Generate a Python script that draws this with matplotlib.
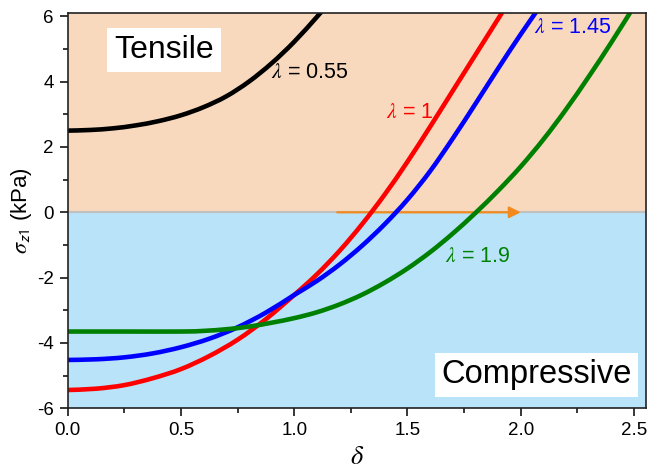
import matplotlib
matplotlib.use("Agg")
import matplotlib.pyplot as plt
from matplotlib.path import Path
from matplotlib.patches import PathPatch

plt.rcParams['font.family'] = ['Liberation Sans', 'DejaVu Sans']
plt.rcParams['mathtext.fontset'] = 'stix'

# Axial stress sigma_z1 (kPa) versus delta for four stretch ratios
delta_055 = [0.0, 0.1, 0.2, 0.3, 0.4, 0.5, 0.6, 0.7, 0.8, 0.9, 1.0, 1.1, 1.15]
sigma_055 = [2.50, 2.52, 2.57, 2.66, 2.79, 2.97, 3.22, 3.55, 4.00, 4.56, 5.22, 5.98, 6.38]

delta_1 = [0.0, 0.125, 0.25, 0.375, 0.5, 0.625, 0.75, 0.875, 1.0, 1.1, 1.2, 1.3,
           1.4, 1.5, 1.6, 1.7, 1.8, 1.9, 2.0]
sigma_1 = [-5.44, -5.40, -5.29, -5.08, -4.80, -4.40, -3.90, -3.27, -2.53, -1.90,
           -1.18, -0.36, 0.55, 1.55, 2.62, 3.72, 4.82, 5.92, 7.02]

delta_145 = [0.0, 0.125, 0.25, 0.375, 0.5, 0.625, 0.75, 0.875, 1.0, 1.1, 1.2, 1.3,
             1.4, 1.5, 1.6, 1.7, 1.8, 1.9, 2.0, 2.1]
sigma_145 = [-4.52, -4.50, -4.44, -4.32, -4.13, -3.87, -3.52, -3.07, -2.53, -2.10,
             -1.60, -1.02, -0.36, 0.39, 1.26, 2.26, 3.32, 4.40, 5.45, 6.45]

delta_19 = [0.0, 0.25, 0.5, 0.6, 0.7, 0.8, 0.9, 1.0, 1.1, 1.2, 1.3, 1.4, 1.5, 1.6,
            1.7, 1.8, 1.9, 2.0, 2.1, 2.2, 2.3, 2.4, 2.5]
sigma_19 = [-3.65, -3.65, -3.65, -3.63, -3.58, -3.50, -3.38, -3.24, -3.06, -2.82,
            -2.52, -2.15, -1.72, -1.22, -0.65, -0.02, 0.66, 1.40, 2.23, 3.15, 4.15,
            5.20, 6.30]

series = [
    (delta_055, sigma_055, 'black', r'$\lambda$ = 0.55', (1.07, 4.29)),
    (delta_1, sigma_1, '#FF0000', r'$\lambda$ = 1', (1.51, 3.07)),
    (delta_145, sigma_145, '#0000FF', r'$\lambda$ = 1.45', (2.23, 5.67)),
    (delta_19, sigma_19, '#008000', r'$\lambda$ = 1.9', (1.81, -1.34)),
]

x_limits = (0.0, 2.553)
y_limits = (-6.0, 6.11)
x_ticks = [0.0, 0.5, 1.0, 1.5, 2.0, 2.5]
y_ticks = [-6, -4, -2, 0, 2, 4, 6]
arrow_start = 1.19
arrow_end = 2.0


def smooth_path(xs, ys):
    """Cubic Bezier path passing through every (x, y) point (Catmull-Rom tangents)."""
    pts = list(zip(xs, ys))
    n = len(pts)
    verts = [pts[0]]
    codes = [Path.MOVETO]
    for i in range(n - 1):
        p0 = pts[i - 1] if i > 0 else pts[i]
        p1 = pts[i]
        p2 = pts[i + 1]
        p3 = pts[i + 2] if i + 2 < n else pts[i + 1]
        c1 = (p1[0] + (p2[0] - p0[0]) / 6.0, p1[1] + (p2[1] - p0[1]) / 6.0)
        c2 = (p2[0] - (p3[0] - p1[0]) / 6.0, p2[1] - (p3[1] - p1[1]) / 6.0)
        verts += [c1, c2, p2]
        codes += [Path.CURVE4] * 3
    return Path(verts, codes)


fig = plt.figure(figsize=(6.48, 4.74), dpi=100)
ax = fig.add_axes([0.1045, 0.1386, 0.8924, 0.8346])

# tensile / compressive regions
ax.axhspan(0, y_limits[1], color='#F9D9BD', zorder=0, lw=0)
ax.axhspan(y_limits[0], 0, color='#B9E3F9', zorder=0, lw=0)
ax.axhline(0, color='#C0C0C0', lw=1.6, zorder=1)

for d, s, c, lab, pos in series:
    patch = PathPatch(smooth_path(d, s), facecolor='none', edgecolor=c, lw=3.3,
                      zorder=3, capstyle='butt', joinstyle='round')
    ax.add_patch(patch)
    ax.text(pos[0], pos[1], lab, color=c, fontsize=15.5, ha='center', va='center',
            zorder=4)

ax.annotate('', xy=(arrow_end, 0), xytext=(arrow_start, 0),
            arrowprops=dict(arrowstyle='-|>', color='#F28A1E', lw=1.6,
                            mutation_scale=17, shrinkA=0, shrinkB=0),
            zorder=2)

ax.text(0.425, 6.11 - (50 - 12.7) / 32.67, 'Tensile', fontsize=23, ha='center',
        va='center', zorder=5,
        bbox=dict(facecolor='white', edgecolor='none', boxstyle='square,pad=0.22'))
ax.text(2.07, -4.98, 'Compressive', fontsize=23.5, ha='center', va='center',
        zorder=5,
        bbox=dict(facecolor='white', edgecolor='none', boxstyle='square,pad=0.2'))

ax.set_xlim(*x_limits)
ax.set_ylim(*y_limits)
ax.set_xticks(x_ticks)
ax.set_xticklabels([f'{t:.1f}' for t in x_ticks])
ax.set_yticks(y_ticks)
ax.set_yticklabels([str(t) for t in y_ticks])
ax.set_xticks([0.25, 0.75, 1.25, 1.75, 2.25], minor=True)
ax.set_yticks([-5, -3, -1, 1, 3, 5], minor=True)
ax.tick_params(which='major', direction='out', length=6, width=1.1, labelsize=13.5,
               top=False, right=False, pad=4)
ax.tick_params(which='minor', direction='out', length=3.5, width=1.1,
               top=False, right=False)

for sp in ax.spines.values():
    sp.set_linewidth(1.2)
    sp.set_color('#222222')
    sp.set_zorder(6)

ax.set_xlabel(r'$\delta$', fontsize=19, labelpad=4)
ax.set_ylabel(r'$\sigma_{\mathsf{z1}}$ (kPa)', fontsize=16, labelpad=2)

fig.savefig('out.png', dpi=100)
